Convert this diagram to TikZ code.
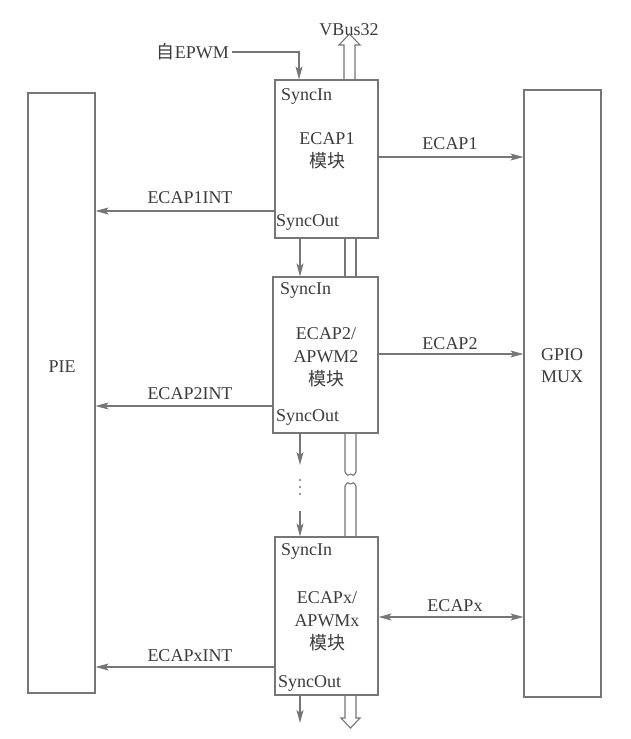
\documentclass[tikz,border=0pt]{standalone}
\usepackage{fontspec}
\setmainfont{Liberation Serif}
\newfontfamily\cjk{Noto Sans CJK SC}
\usetikzlibrary{arrows.meta}
\definecolor{ln}{RGB}{118,118,118}
\definecolor{tx}{RGB}{60,60,60}
\begin{document}
\begin{tikzpicture}[x=1pt,y=-1pt,
  every node/.style={font=\fontsize{18}{20}\selectfont, text=tx, inner sep=0pt},
  box/.style={draw=ln, line width=1.1pt, fill=none},
  tip/.style={Stealth[length=13pt,width=7pt,inset=3pt]},
  conn/.style={draw=ln, line width=1.1pt, -{Stealth[length=13pt,width=7pt,inset=3pt]}},
  dconn/.style={draw=ln, line width=1.1pt, {Stealth[length=13pt,width=7pt,inset=3pt]}-{Stealth[length=13pt,width=7pt,inset=3pt]}},
  bus/.style={draw=ln, line width=1.1pt, line join=miter},
  lbl/.style={anchor=base},
  ml/.style={align=center, font=\fontsize{18}{23}\selectfont}]
\fill[white] (0,0) rectangle (630,739);
\useasboundingbox (0,0) rectangle (630,739);
% big boxes
\node[box, minimum width=67pt, minimum height=600pt] (pie) at (61.5,393) {};
\node[box, minimum width=77pt, minimum height=607pt] (gpio) at (562.5,393.5) {};
\node (pietext) at (62,367) {PIE};
\node[align=center, font=\fontsize{18}{22}\selectfont] (gpiotext) at (562,366) {GPIO\\MUX};
% modules
\node[box, minimum width=103pt, minimum height=158pt] (e1) at (326.5,159) {};
\node[box, minimum width=105pt, minimum height=156pt] (e2) at (325.5,355) {};
\node[box, minimum width=103pt, minimum height=158pt] (ex) at (326.5,616) {};
% module texts
\node[anchor=west] (e1in) at (281,96) {SyncIn};
\node[ml] (e1t) at (327,151) {ECAP1\\{\cjk 模块}};
\node[anchor=west] (e1out) at (276,222) {SyncOut};
\node[anchor=west] (e2in) at (280,290) {SyncIn};
\node[ml] (e2t) at (326,357) {ECAP2/\\APWM2\\{\cjk 模块}};
\node[anchor=west] (e2out) at (276,417) {SyncOut};
\node[anchor=west] (exin) at (281,551) {SyncIn};
\node[ml] (ext) at (327,621) {ECAPx/\\APWMx\\{\cjk 模块}};
\node[anchor=west] (exout) at (278,683) {SyncOut};
% EPWM input
\node[anchor=east] (epwm) at (229,52) {{\cjk 自}EPWM};
\draw[conn] (epwm.east) ++(3,0) -| (e1.north -| 299,0);
% VBus
\node (vbus) at (349,30) {VBus32};
\draw[bus] (e1.north -| 344,0) -- (344,45) -- (339,45) -- (349.5,34) -- (360,45) -- (355,45) -- (e1.north -| 355,0);
\draw[bus] (e1.south -| 345,0) -- (e2.north -| 345,0);
\draw[bus] (e1.south -| 356,0) -- (e2.north -| 356,0);
\draw[bus] (e2.south -| 345,0) -- (345,472) .. controls (347,476) and (349,476) .. (350.5,474) .. controls (352,476) and (354,476) .. (356,472) -- (e2.south -| 356,0);
\draw[bus] (ex.north -| 345,0) -- (345,486) .. controls (347,482) and (349,482) .. (350.5,484) .. controls (352,482) and (354,482) .. (356,486) -- (ex.north -| 356,0);
\draw[bus] (ex.south -| 345,0) -- (345,718) -- (341,718) -- (350.5,728) -- (360,718) -- (356,718) -- (ex.south -| 356,0);
% Sync chain
\draw[conn] (e1.south -| 300,0) -- (e2.north -| 300,0);
\coordinate (d1) at (300,465);
\coordinate (d2) at (300,511);
\draw[conn] (e2.south -| 300,0) -- (d1);
\fill[ln] (300,480) circle (1.2pt) (300,487) circle (1.2pt) (300,494) circle (1.2pt);
\draw[conn] (d2) -- (ex.north -| 300,0);
\coordinate (d3) at (300,723);
\draw[conn] (ex.south -| 300,0) -- (d3);
% outputs to GPIO
\draw[conn] (e1.east |- 0,157) -- (gpio.west |- 0,157);
\node[lbl] (l1) at (450,149) {ECAP1};
\draw[conn] (e2.east |- 0,354) -- (gpio.west |- 0,354);
\node[lbl] (l2) at (450,349) {ECAP2};
\draw[dconn] (ex.east |- 0,617) -- (gpio.west |- 0,617);
\node[lbl] (l3) at (455,611) {ECAPx};
% interrupts to PIE
\draw[conn] (e1.west |- 0,211) -- (pie.east |- 0,211);
\node[lbl] (i1) at (190,203) {ECAP1INT};
\draw[conn] (e2.west |- 0,406) -- (pie.east |- 0,406);
\node[lbl] (i2) at (190,399) {ECAP2INT};
\draw[conn] (ex.west |- 0,667) -- (pie.east |- 0,667);
\node[lbl] (i3) at (190,661) {ECAPxINT};
\end{tikzpicture}
\end{document}
